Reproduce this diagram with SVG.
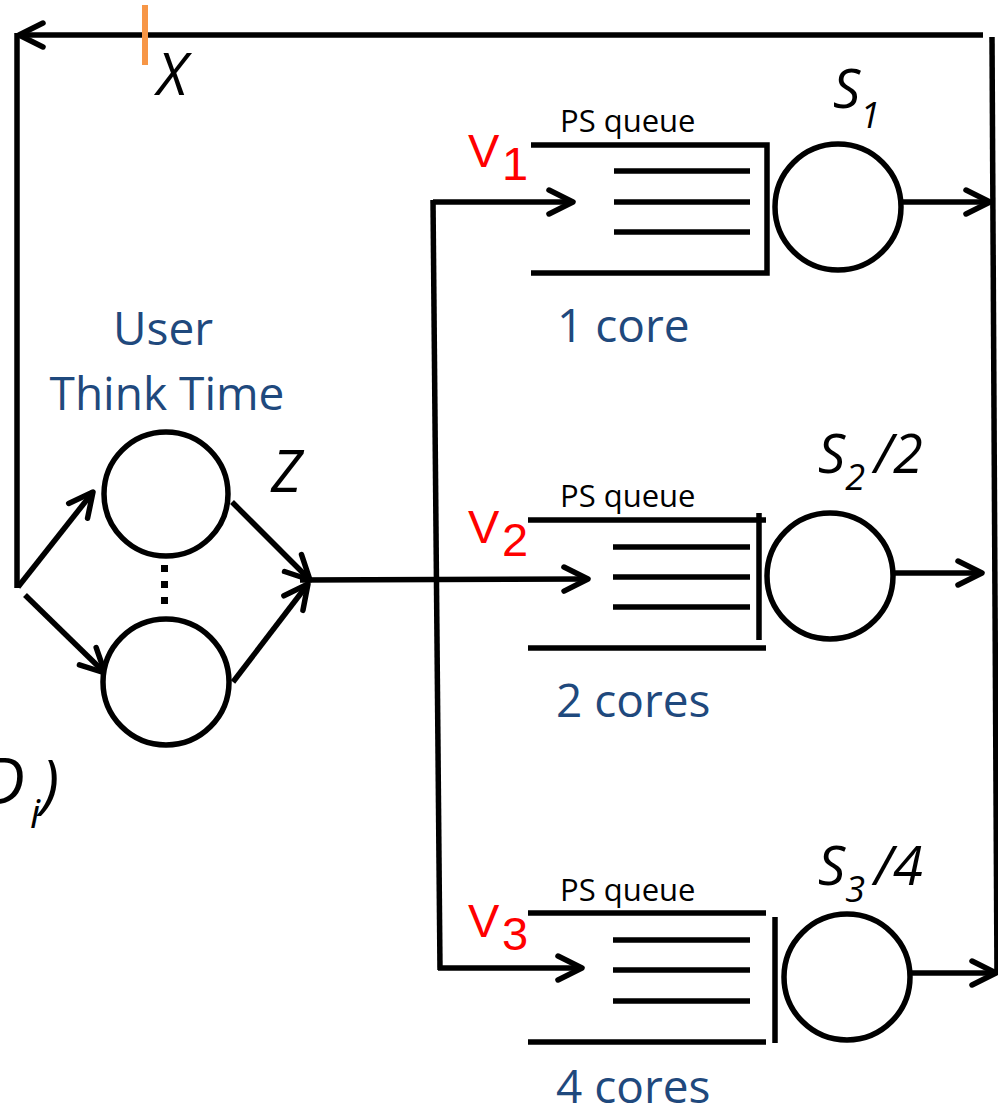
<svg xmlns="http://www.w3.org/2000/svg" width="998" height="1114" viewBox="0 0 998 1114">
<defs>
<style>
.ln{fill:none;stroke:#000;stroke-width:5.5;stroke-linecap:butt;stroke-linejoin:miter}
.ar{marker-end:url(#arr)}
.cir{fill:#fff;stroke:#000;stroke-width:5.5}
.t{font-family:"Open Sans","Liberation Sans",sans-serif}
.blue{fill:#1F497D;font-size:46px}
.ps{font-size:31px;fill:#000}
.v{fill:#FF0000;font-size:47px;font-family:"Liberation Sans",Arial,sans-serif}
.it{font-style:italic;fill:#000}
</style>
<marker id="arr" viewBox="-30 -18 34 36" markerWidth="34" markerHeight="36" refX="0" refY="0" markerUnits="userSpaceOnUse" orient="auto">
<path d="M-24,-12 L0,0 L-24,12" fill="none" stroke="#000" stroke-width="5.5" stroke-linecap="round" stroke-linejoin="round"/>
</marker>
</defs>
<rect width="998" height="1114" fill="#fff"/>

<g id="connectors">
<path class="ln ar" d="M983,35 L19,35"/>
<path class="ln" d="M17,33 L17,588"/>
<path class="ln" d="M992,37 L997,975"/>
<rect x="142" y="5" width="6" height="60" fill="#F79646"/>
<path class="ln ar" d="M18,587 L93,492"/>
<path class="ln ar" d="M25,595 L105,673"/>
<path class="ln ar" d="M232,502 L310,580"/>
<path class="ln ar" d="M233,682 L308,584"/>
<path class="ln ar" d="M300,580 L588,579"/>
<path class="ln ar" d="M433,202 L573,202"/>
<path class="ln" d="M433,200 L440,970"/>
<path class="ln ar" d="M438,968 L582,968"/>
<path class="ln ar" d="M901,202 L990,202"/>
<path class="ln ar" d="M893,573 L982,573"/>
<path class="ln ar" d="M910,973 L996,973"/>
</g>

<g id="think-time">
<text class="t blue" x="163" y="345" text-anchor="middle">User</text>
<text class="t blue" x="167" y="410" text-anchor="middle">Think Time</text>
<circle class="cir" cx="166" cy="494" r="62"/>
<circle class="cir" cx="166" cy="682" r="63"/>
<rect x="161" y="565" width="7" height="7" fill="#000"/>
<rect x="161" y="581" width="7" height="7" fill="#000"/>
<rect x="161" y="597" width="7" height="7" fill="#000"/>
<text class="t it" x="271" y="492" font-size="58">Z</text>
</g>

<g id="labels-left">
<text class="t it" x="157" y="95" font-size="58">X</text>
<text class="t it" x="-18" y="804" font-size="64">D</text>
<text class="t it" x="30" y="828" font-size="40">i</text>
<text class="t it" x="41" y="806" font-size="64">)</text>
</g>

<g id="queue1">
<text class="t ps" x="560" y="132">PS queue</text>
<text class="v" x="468" y="167">V</text>
<text class="v" x="502" y="180" font-size="30">1</text>
<path class="ln" d="M531,145 L767,145 L767,273 L531,273"/>
<path class="ln" d="M614,171 H750 M614,202 H750 M614,232 H750"/>
<circle class="cir" cx="838" cy="207" r="63"/>
<text class="t it" x="833" y="108" font-size="54">S<tspan font-size="36" dy="20">1</tspan></text>
<text class="t blue" x="557" y="342">1 core</text>
</g>

<g id="queue2">
<text class="t ps" x="560" y="507">PS queue</text>
<text class="v" x="468" y="543">V</text>
<text class="v" x="502" y="556" font-size="30">2</text>
<path class="ln" d="M528,520 H766 M528,648 H766 M759,513 V640"/>
<path class="ln" d="M613,547 H750 M613,577 H750 M613,607 H750"/>
<circle class="cir" cx="830" cy="576" r="63"/>
<text class="t it" x="818" y="473" font-size="54">S<tspan font-size="36" dy="17">2</tspan><tspan dy="-17" dx="9">/2</tspan></text>
<text class="t blue" x="556" y="717">2 cores</text>
</g>

<g id="queue3">
<text class="t ps" x="560" y="901">PS queue</text>
<text class="v" x="468" y="937">V</text>
<text class="v" x="502" y="950" font-size="30">3</text>
<path class="ln" d="M528,913 H766 M528,1042 H766 M775,917 V1043"/>
<path class="ln" d="M613,940 H750 M613,970 H750 M613,1001 H750"/>
<circle class="cir" cx="847" cy="977" r="63"/>
<text class="t it" x="818" y="885" font-size="54">S<tspan font-size="36" dy="17">3</tspan><tspan dy="-17" dx="9">/4</tspan></text>
<text class="t blue" x="556" y="1103">4 cores</text>
</g>
</svg>
